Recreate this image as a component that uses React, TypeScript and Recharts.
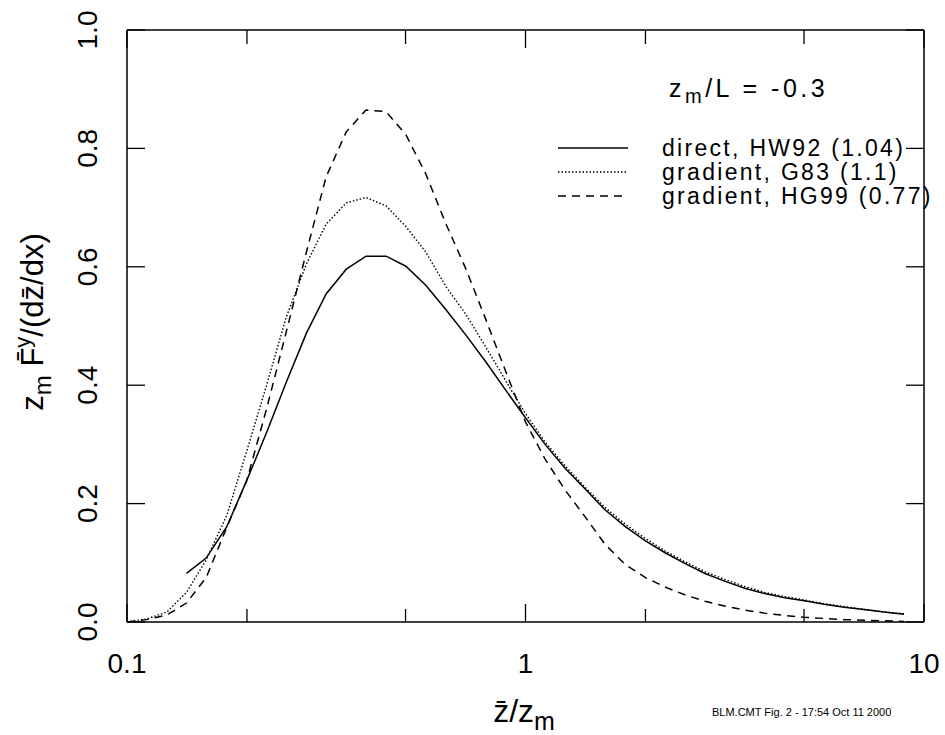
import { LineChart, Line, XAxis, YAxis } from 'recharts';

// z/zm on a log grid (0.05 decade steps)
const zRatio = [
  0.1, 0.112, 0.126, 0.141, 0.158, 0.178, 0.2, 0.224, 0.251, 0.282,
  0.316, 0.355, 0.398, 0.447, 0.501, 0.562, 0.631, 0.708, 0.794, 0.891,
  1.0, 1.12, 1.26, 1.41, 1.58, 1.78, 2.0, 2.24, 2.51, 2.82,
  3.16, 3.55, 3.98, 4.47, 5.01, 5.62, 6.31, 7.08, 7.94, 8.91,
];

const directHW92 = [
  null, null, null, 0.082, 0.108, 0.161, 0.24, 0.32, 0.405, 0.488,
  0.554, 0.596, 0.618, 0.618, 0.601, 0.569, 0.528, 0.485, 0.44, 0.392,
  0.345, 0.3, 0.259, 0.225, 0.19, 0.161, 0.137, 0.117, 0.099, 0.082,
  0.069, 0.057, 0.048, 0.041, 0.036, 0.03, 0.025, 0.021, 0.017, 0.013,
];

const gradientG83 = [
  0.0, 0.005, 0.017, 0.05, 0.105, 0.18, 0.29, 0.4, 0.515, 0.605,
  0.672, 0.708, 0.717, 0.703, 0.668, 0.625, 0.567, 0.52, 0.465, 0.408,
  0.352, 0.304, 0.263, 0.228, 0.194, 0.165, 0.141, 0.12, 0.102, 0.085,
  0.072, 0.06, 0.05, 0.043, 0.037, 0.031, 0.026, 0.021, 0.017, 0.014,
];

const gradientHG99 = [
  0.0, 0.004, 0.012, 0.032, 0.075, 0.16, 0.24, 0.36, 0.49, 0.625,
  0.752, 0.828, 0.865, 0.862, 0.823, 0.757, 0.673, 0.597, 0.512, 0.424,
  0.338, 0.275, 0.222, 0.178, 0.132, 0.097, 0.075, 0.059, 0.046, 0.035,
  0.027, 0.02, 0.015, 0.011, 0.008, 0.006, 0.004, 0.003, 0.002, 0.001,
];

const xTicks = [0.1, 0.2, 0.5, 1, 2, 5, 10];
const xDecades = [0.1, 1, 10];
const xTickLabels = ['0.1', '1', '10'];
const yTicks = [0, 0.2, 0.4, 0.6, 0.8, 1.0];

const legendItems = [
  { name: 'direct, HW92 (1.04)', dash: undefined },
  { name: 'gradient, G83 (1.1)', dash: '1.5 2' },
  { name: 'gradient, HG99 (0.77)', dash: '8 6' },
];

const data = zRatio.map((x, i) => ({
  x,
  direct: directHW92[i],
  g83: gradientG83[i],
  hg99: gradientHG99[i],
}));

const FONT = '"Liberation Sans", Arial, sans-serif';

function BottomTick(props: any) {
  const { x, y, payload } = props;
  const idx = xDecades.indexOf(payload.value);
  const major = idx >= 0;
  return (
    <g>
      <line x1={x} x2={x} y1={y} y2={y - (major ? 18 : 13)} stroke="#000" strokeWidth={1.3} />
      {major && (
        <text x={x} y={y + 51} textAnchor="middle" fontSize={28} fontFamily={FONT} fill="#000">
          {xTickLabels[idx]}
        </text>
      )}
    </g>
  );
}

function TopTick(props: any) {
  const { x, y, payload } = props;
  const major = xDecades.includes(payload.value);
  return <line x1={x} x2={x} y1={y} y2={y + (major ? 18 : 14)} stroke="#000" strokeWidth={1.3} />;
}

function LeftTick(props: any) {
  const { x, y, payload } = props;
  const tx = x - 30;
  return (
    <g>
      <line x1={x} x2={x + 18} y1={y} y2={y} stroke="#000" strokeWidth={1.3} />
      <text
        x={tx}
        y={y}
        transform={`rotate(-90 ${tx} ${y})`}
        textAnchor="middle"
        fontSize={28}
        fontFamily={FONT}
        fill="#000"
      >
        {Number(payload.value).toFixed(1)}
      </text>
    </g>
  );
}

function RightTick(props: any) {
  const { x, y } = props;
  return <line x1={x} x2={x - 18} y1={y} y2={y} stroke="#000" strokeWidth={1.3} />;
}

export default function App() {
  return (
    <div style={{ position: 'absolute', left: 0, top: 0, width: 945, height: 735, background: '#fff' }}>
      <LineChart width={945} height={735} data={data} margin={{ top: 29, right: 20, bottom: 0, left: 0 }}>
        <XAxis
          dataKey="x"
          type="number"
          scale="log"
          domain={[0.1, 10]}
          allowDataOverflow
          ticks={xTicks}
          interval={0}
          height={113}
          tickSize={0}
          tickMargin={0}
          tickLine={false}
          axisLine={{ stroke: '#000', strokeWidth: 1.5 }}
          tick={<BottomTick />}
        />
        <XAxis
          xAxisId="top"
          orientation="top"
          dataKey="x"
          type="number"
          scale="log"
          domain={[0.1, 10]}
          allowDataOverflow
          ticks={xTicks}
          interval={0}
          height={1}
          tickSize={0}
          tickMargin={0}
          tickLine={false}
          axisLine={{ stroke: '#000', strokeWidth: 1.5 }}
          tick={<TopTick />}
        />
        <YAxis
          type="number"
          domain={[0, 1]}
          ticks={yTicks}
          interval={0}
          width={127}
          tickSize={0}
          tickMargin={0}
          tickLine={false}
          axisLine={{ stroke: '#000', strokeWidth: 1.5 }}
          tick={<LeftTick />}
        />
        <YAxis
          yAxisId="right"
          orientation="right"
          type="number"
          domain={[0, 1]}
          ticks={yTicks}
          interval={0}
          width={1}
          tickSize={0}
          tickMargin={0}
          tickLine={false}
          axisLine={{ stroke: '#000', strokeWidth: 1.5 }}
          tick={<RightTick />}
        />
        <Line
          type="linear"
          dataKey="direct"
          stroke="#000"
          strokeWidth={1.5}
          dot={false}
          isAnimationActive={false}
        />
        <Line
          type="linear"
          dataKey="g83"
          stroke="#000"
          strokeWidth={1.4}
          strokeDasharray="1.5 2"
          dot={false}
          isAnimationActive={false}
        />
        <Line
          type="linear"
          dataKey="hg99"
          xAxisId="top"
          yAxisId="right"
          stroke="#000"
          strokeWidth={1.5}
          strokeDasharray="8 6"
          dot={false}
          isAnimationActive={false}
        />
      </LineChart>

      <svg
        width={945}
        height={735}
        style={{ position: 'absolute', left: 0, top: 0, pointerEvents: 'none' }}
        fontFamily={FONT}
      >
        {/* y axis title */}
        <text
          x={43}
          y={322}
          transform="rotate(-90 43 322)"
          textAnchor="middle"
          fontSize={31}
          fill="#000"
        >
          z<tspan fontSize={24} dy={8}>m</tspan>
          <tspan fontSize={31} dy={-8}> F{'\u0304'}</tspan>
          <tspan fontSize={22} dy={-13}>y</tspan>
          <tspan fontSize={31} dy={13}>/(dz{'\u0304'}/dx)</tspan>
        </text>

        {/* x axis title */}
        <text x={524} y={722} textAnchor="middle" fontSize={32} fill="#000">
          z{'\u0304'}/z<tspan fontSize={25} dy={8}>m</tspan>
        </text>

        {/* annotation */}
        <text x={669} y={97} fontSize={25} letterSpacing={3.5} fill="#000">
          z<tspan fontSize={20} dy={6}>m</tspan>
          <tspan fontSize={25} dy={-6}>/L = -0.3</tspan>
        </text>

        {/* legend */}
        {legendItems.map((item, i) => (
          <g key={item.name}>
            <line
              x1={558}
              x2={628}
              y1={148 + i * 24}
              y2={148 + i * 24}
              stroke="#000"
              strokeWidth={1.4}
              strokeDasharray={item.dash}
            />
            <text x={662} y={156 + i * 24} fontSize={23} letterSpacing={2.3} fill="#000">
              {item.name}
            </text>
          </g>
        ))}

        {/* footer stamp */}
        <text x={712} y={716} fontSize={11} fill="#000">
          BLM.CMT Fig. 2 -  17:54 Oct 11 2000
        </text>
      </svg>
    </div>
  );
}
